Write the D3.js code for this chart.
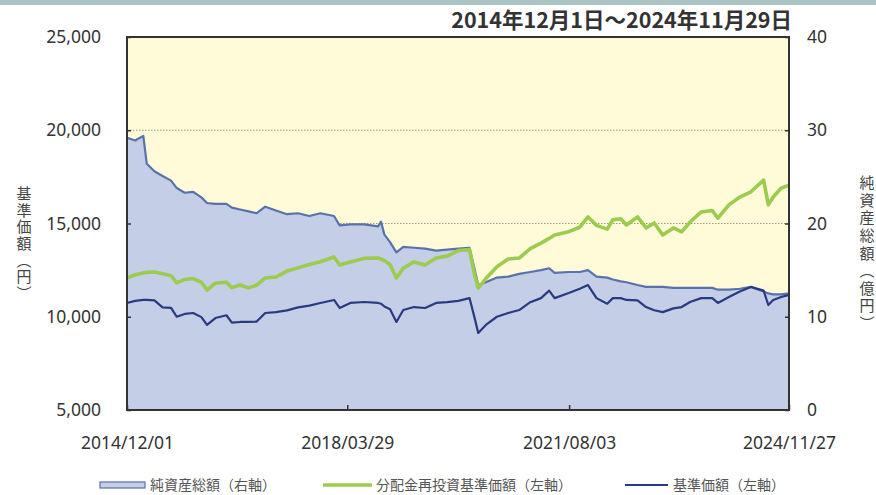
<!DOCTYPE html>
<html>
<head>
<meta charset="utf-8">
<script src="https://cdn.jsdelivr.net/npm/d3@7"></script>
<style>
  body { margin: 0; background: #fff; }
  svg text { font-family: "Noto Sans", "Noto Sans CJK JP", sans-serif; }
  .cjk { font-family: "Noto Sans CJK JP", sans-serif; }
</style>
</head>
<body>
<svg id="chart" width="876" height="495"></svg>
<script>
// data (approximate)
var periodLabel = "2014年12月1日～2024年11月29日";

var dates = [
  "2014-12-01","2015-01-15","2015-03-01","2015-03-20","2015-05-01","2015-06-15","2015-08-01","2015-09-01","2015-10-15","2015-12-01",
  "2016-01-15","2016-02-15","2016-04-01","2016-06-01","2016-07-01","2016-08-15","2016-10-01","2016-11-15","2017-01-01","2017-03-01",
  "2017-05-01","2017-07-01","2017-09-01","2017-11-01","2018-01-15","2018-02-15","2018-04-15","2018-07-01","2018-09-15","2018-10-01",
  "2018-10-20","2018-11-20","2018-12-25","2019-02-01","2019-04-01","2019-06-01","2019-08-01","2019-10-01","2019-12-01","2020-02-01",
  "2020-03-01","2020-03-20","2020-05-01","2020-07-01","2020-09-01","2020-11-01","2021-01-01","2021-03-01","2021-04-15","2021-05-15",
  "2021-08-01","2021-10-01","2021-11-15","2022-01-01","2022-03-01","2022-04-01","2022-05-15","2022-06-15","2022-08-15","2022-10-01",
  "2022-11-15","2023-01-01","2023-03-01","2023-04-15","2023-06-01","2023-08-01","2023-10-01","2023-11-01","2024-01-01","2024-03-01",
  "2024-05-01","2024-07-10","2024-08-05","2024-09-01","2024-10-15","2024-11-27"
];

// 純資産総額 (億円, right axis)
var netAssets = [
  29.2,28.9,29.4,26.4,25.6,25.1,24.6,23.8,23.3,23.4,
  22.8,22.2,22.1,22.1,21.7,21.5,21.3,21.1,21.8,21.4,
  21.0,21.1,20.8,21.1,20.8,19.8,19.9,19.9,19.7,20.2,
  18.8,18.0,16.9,17.5,17.4,17.3,17.1,17.2,17.3,17.4,
  15.0,13.4,13.7,14.2,14.3,14.6,14.8,15.0,15.2,14.7,
  14.8,14.8,15.0,14.3,14.2,14.0,13.8,13.7,13.4,13.2,
  13.2,13.2,13.1,13.1,13.1,13.1,13.1,12.9,12.9,13.0,
  13.2,12.7,12.5,12.4,12.4,12.5
];

// 分配金再投資基準価額 (円, left axis)
var reinvestNav = [
  12080,12250,12350,12380,12400,12300,12200,11820,12000,12050,
  11850,11430,11800,11850,11560,11700,11550,11700,12080,12130,
  12450,12620,12800,12950,13200,12770,12940,13130,13150,13100,
  13000,12800,12080,12600,12940,12770,13150,13250,13550,13600,
  12200,11540,12050,12680,13100,13150,13650,13950,14200,14380,
  14560,14800,15350,14900,14700,15200,15250,14920,15350,14760,
  15030,14380,14760,14550,15080,15620,15700,15290,16000,16420,
  16700,17330,16000,16420,16900,17060
];

// 基準価額 (円, left axis)
var nav = [
  10740,10850,10900,10900,10880,10500,10480,10000,10150,10200,
  9980,9560,9930,10080,9680,9720,9720,9740,10200,10250,
  10340,10500,10600,10740,10900,10470,10740,10790,10740,10700,
  10550,10400,9720,10360,10520,10470,10740,10780,10850,11000,
  9900,9130,9560,10000,10200,10360,10780,11000,11400,11000,
  11270,11500,11700,11000,10700,11000,11000,10900,10880,10520,
  10350,10250,10450,10520,10790,11000,11000,10740,11060,11350,
  11600,11400,10630,10900,11060,11170
];

var leftTicks = [5000, 10000, 15000, 20000, 25000];
var rightTicks = [0, 10, 20, 30, 40];
var gridTicks = [10000, 15000, 20000];
var xTickDates = ["2014-12-01", "2018-03-29", "2021-08-03", "2024-11-27"];

var legendItems = [
  {label: "純資産総額（右軸）", type: "area"},
  {label: "分配金再投資基準価額（左軸）", type: "reinvest"},
  {label: "基準価額（左軸）", type: "nav"}
];

var colors = {
  bg: "#fffad8",
  areaFill: "#c4cee7",
  areaLine: "#5a72ab",
  reinvest: "#9ccb4d",
  nav: "#2a3a80",
  grid: "#a39a7c",
  frame: "#333"
};

var parseDate = d3.timeParse("%Y-%m-%d");
var data = dates.map(function(d, i) {
  return {date: parseDate(d), assets: netAssets[i], reinvest: reinvestNav[i], nav: nav[i]};
});

var margin = {left: 127, right: 87, top: 37, bottom: 85};
var width = 876, height = 495;

var svg = d3.select("#chart");

// top band
svg.append("rect").attr("x", 0).attr("y", 0).attr("width", width).attr("height", 5)
  .attr("fill", "#aac3c3");

var x = d3.scaleTime()
  .domain([parseDate(xTickDates[0]), parseDate(xTickDates[xTickDates.length - 1])])
  .range([margin.left, width - margin.right]);
var yLeft = d3.scaleLinear().domain([5000, 25000]).range([height - margin.bottom, margin.top]);
var yRight = d3.scaleLinear().domain([0, 40]).range([height - margin.bottom, margin.top]);

var x0 = x.range()[0], x1 = x.range()[1];
var yb = yLeft.range()[0], yt = yLeft.range()[1];

svg.append("rect")
  .attr("x", x0).attr("y", yt).attr("width", x1 - x0).attr("height", yb - yt)
  .attr("fill", colors.bg);

// dotted gridlines
svg.append("g").selectAll("line").data(gridTicks).enter().append("line")
  .attr("x1", x0).attr("x2", x1)
  .attr("y1", function(d) { return yLeft(d); })
  .attr("y2", function(d) { return yLeft(d); })
  .attr("stroke", colors.grid)
  .attr("stroke-width", 1.2)
  .attr("stroke-dasharray", "1.5,1.5");

// net assets area
var area = d3.area()
  .x(function(d) { return x(d.date); })
  .y0(yRight(0))
  .y1(function(d) { return yRight(d.assets); });

svg.append("path").datum(data)
  .attr("d", area)
  .attr("fill", colors.areaFill);

svg.append("path").datum(data)
  .attr("d", d3.line().x(function(d) { return x(d.date); }).y(function(d) { return yRight(d.assets); }))
  .attr("fill", "none")
  .attr("stroke", colors.areaLine)
  .attr("stroke-width", 2.2)
  .attr("stroke-linejoin", "round");

svg.append("path").datum(data)
  .attr("d", d3.line().x(function(d) { return x(d.date); }).y(function(d) { return yLeft(d.nav); }))
  .attr("fill", "none")
  .attr("stroke", colors.nav)
  .attr("stroke-width", 2.2)
  .attr("stroke-linejoin", "round");

svg.append("path").datum(data)
  .attr("d", d3.line().x(function(d) { return x(d.date); }).y(function(d) { return yLeft(d.reinvest); }))
  .attr("fill", "none")
  .attr("stroke", colors.reinvest)
  .attr("stroke-width", 3.6)
  .attr("stroke-linejoin", "round");

// frame
svg.append("rect")
  .attr("x", x0).attr("y", yt).attr("width", x1 - x0).attr("height", yb - yt)
  .attr("fill", "none").attr("stroke", colors.frame).attr("stroke-width", 2);

// axes
var fmtLeft = d3.format(",");
var gLeft = svg.append("g").attr("transform", "translate(" + x0 + ",0)")
  .call(d3.axisLeft(yLeft).tickValues(leftTicks).tickFormat(fmtLeft).tickSize(-4).tickPadding(26));
var gRight = svg.append("g").attr("transform", "translate(" + x1 + ",0)")
  .call(d3.axisRight(yRight).tickValues(rightTicks).tickSize(-4).tickPadding(18));
var gBottom = svg.append("g").attr("transform", "translate(0," + yb + ")")
  .call(d3.axisBottom(x).tickValues(xTickDates.map(parseDate)).tickFormat(d3.timeFormat("%Y/%m/%d"))
    .tickSize(-5).tickPadding(27));

[gLeft, gRight, gBottom].forEach(function(g) {
  g.select(".domain").remove();
  g.selectAll(".tick line").attr("stroke", colors.frame).attr("stroke-width", 1.5);
  g.selectAll("text").attr("fill", "#333").style("font-size", "17.5px")
    .style("font-family", "'Noto Sans', sans-serif");
});

// period label
svg.append("text").attr("class", "cjk")
  .attr("x", 792).attr("y", 28)
  .attr("text-anchor", "end")
  .attr("fill", "#333")
  .style("font-size", "21.5px").style("font-weight", "bold")
  .text(periodLabel);

// vertical axis titles
svg.append("text").attr("class", "cjk")
  .attr("x", 24).attr("y", 186)
  .style("writing-mode", "vertical-rl")
  .style("font-size", "15px").style("letter-spacing", "1.6px")
  .attr("fill", "#444")
  .text("基準価額（円）");

svg.append("text").attr("class", "cjk")
  .attr("x", 867).attr("y", 175)
  .style("writing-mode", "vertical-rl")
  .style("font-size", "15px").style("letter-spacing", "2.6px")
  .attr("fill", "#444")
  .text("純資産総額（億円）");

// legend
var legendX = [100, 323, 625];
var legendTextX = [150, 376, 673];
var legendY = 485;
var lg = svg.append("g");
legendItems.forEach(function(item, i) {
  if (item.type === "area") {
    lg.append("rect").attr("x", legendX[i]).attr("y", legendY - 3).attr("width", 45).attr("height", 6)
      .attr("fill", colors.areaFill).attr("stroke", colors.areaLine).attr("stroke-width", 1.2);
  } else {
    lg.append("line").attr("x1", legendX[i]).attr("x2", legendX[i] + (i === 1 ? 49 : 43))
      .attr("y1", legendY).attr("y2", legendY)
      .attr("stroke", item.type === "reinvest" ? colors.reinvest : colors.nav)
      .attr("stroke-width", item.type === "reinvest" ? 3.6 : 2.2);
  }
  lg.append("text").attr("class", "cjk")
    .attr("x", legendTextX[i]).attr("y", legendY + 5)
    .attr("fill", "#555")
    .style("font-size", "14px")
    .text(item.label);
});
</script>
</body>
</html>
